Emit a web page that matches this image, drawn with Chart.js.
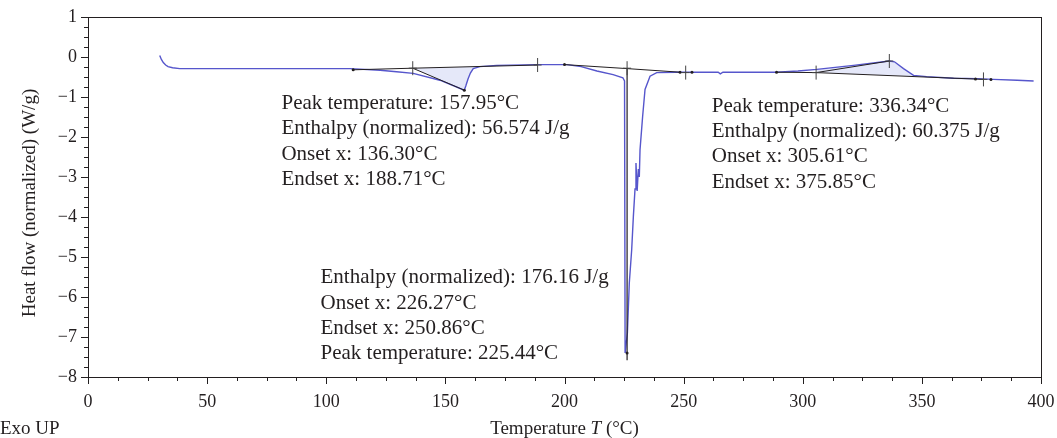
<!DOCTYPE html>
<html>
<head>
<meta charset="utf-8">
<title>DSC thermogram</title>
<script src="https://cdn.jsdelivr.net/npm/chart.js@4.4.1/dist/chart.umd.min.js"></script>
<style>
  html, body { margin: 0; padding: 0; background: #fff; }
  canvas { display: block; }
</style>
</head>
<body>
<canvas id="dsc" width="1057" height="438"></canvas>
<script>
/* ── DATA ── */
// heat flow curve, temperature (°C) vs normalized heat flow (W/g)
const curveT  = [30.1, 30.8, 31.6, 32.6, 33.6, 35.5, 38.5, 50, 70, 90, 110, 122.6, 129.5, 136.5, 147.7,
                 157.95, 158.6, 159.5, 160.5, 161.7, 164.5, 171.5, 189, 201, 207, 213.6, 220.4, 224.5, 225.2,
                 225.44, 226.4, 227.2, 228.2, 228.9, 229.6, 230.0, 230.5, 231.0, 231.4, 231.7, 232.8, 233.8,
                 235.9, 238.7, 247, 260, 264.5, 265.4, 266.5, 289, 298, 305.9, 321.3, 336.34, 338.5, 342.3,
                 346.5, 352, 363.3, 373.1, 380, 390, 396.9];
const curveHF = [0.04, -0.06, -0.14, -0.2, -0.24, -0.27, -0.29, -0.29, -0.29, -0.29, -0.29, -0.33, -0.37, -0.41, -0.58,
                 -0.83, -0.72, -0.55, -0.4, -0.29, -0.24, -0.21, -0.19, -0.19, -0.24, -0.35, -0.44, -0.52, -0.6,
                 -7.4, -6.9, -5.65, -4.82, -3.99, -3.3, -2.65, -3.35, -2.8, -3.0, -2.32, -1.48, -0.81,
                 -0.48, -0.39, -0.38, -0.38, -0.38, -0.42, -0.38, -0.38, -0.35, -0.31, -0.21, -0.1, -0.12, -0.29,
                 -0.46, -0.49, -0.53, -0.54, -0.56, -0.58, -0.6];

// integration baselines and tangents (pairs of T / heat flow)
const base1T  = [111.3, 136.3, 188.71];  const base1HF  = [-0.32, -0.28, -0.2];
const tan1T   = [136.3, 157.95];         const tan1HF   = [-0.28, -0.83];
const base2T  = [200, 226.27, 248.5];    const base2HF  = [-0.19, -0.29, -0.38];
const drop2T  = [226.27, 226.27];        const drop2HF  = [-0.29, -7.58];
const base3T  = [289, 305.61, 375.85];   const base3HF  = [-0.38, -0.39, -0.56];
const tan3T   = [305.61, 336.34];        const tan3HF   = [-0.39, -0.1];

// integrated peak areas
const area1T  = [136.3, 157.95, 158.6, 159.5, 160.5, 161.7, 164.5];
const area1HF = [-0.28, -0.83, -0.72, -0.55, -0.4, -0.29, -0.24];
const area3T  = [305.61, 305.9, 321.3, 336.34, 338.5, 342.3, 346.5, 346.5];
const area3HF = [-0.39, -0.31, -0.21, -0.1, -0.12, -0.29, -0.46, -0.49];

// onset / endset / peak cursors and end points
const crossT  = [136.3, 188.71, 226.27, 250.86, 305.61, 336.34, 375.85];
const crossHF = [-0.28, -0.2, -0.28, -0.39, -0.39, -0.1, -0.56];
const dotT    = [111.3, 157.95, 200, 226.27, 248.5, 253.5, 289, 372.5, 379];
const dotHF   = [-0.32, -0.83, -0.19, -7.4, -0.38, -0.38, -0.38, -0.55, -0.56];

// axes
const xTickValues = [0, 50, 100, 150, 200, 250, 300, 350, 400];
const yTickValues = [1, 0, -1, -2, -3, -4, -5, -6, -7, -8];
const xMinorStep = 12.5;
const yMinorStep = 0.25;

// peak evaluation texts
const peak1Text = ["Peak temperature: 157.95°C", "Enthalpy (normalized): 56.574 J/g", "Onset x: 136.30°C", "Endset x: 188.71°C"];
const peak2Text = ["Enthalpy (normalized): 176.16 J/g", "Onset x: 226.27°C", "Endset x: 250.86°C", "Peak temperature: 225.44°C"];
const peak3Text = ["Peak temperature: 336.34°C", "Enthalpy (normalized): 60.375 J/g", "Onset x: 305.61°C", "Endset x: 375.85°C"];

/* ── STYLE ── */
const INK   = "#231f20";
const CURVE = "#5656cc";
const SHADE = "rgba(226,229,248,0.9)";
const SERIF = "'Liberation Serif', 'DejaVu Serif', serif";

// where each text block starts (data coords of first line, left edge)
const textBlocks = [
  { lines: peak1Text, x: 81.2, y: -1.16 },
  { lines: peak2Text, x: 97.6, y: -5.52 },
  { lines: peak3Text, x: 261.8, y: -1.23 }
];

const pts = (xs, ys) => xs.map((v, i) => ({ x: v, y: ys[i] }));

function line(xs, ys, color, width, order) {
  return { data: pts(xs, ys), showLine: true, borderColor: color, borderWidth: width,
           pointRadius: 0, fill: false, tension: 0, order };
}

function area(xs, ys) {
  return { data: pts(xs, ys), showLine: true, borderWidth: 0, borderColor: "rgba(0,0,0,0)",
           backgroundColor: SHADE, fill: "shape", pointRadius: 0, order: 10 };
}

/* ── PLUGINS ── */
// frame, major/minor ticks and axis titles
const frameTicks = {
  id: "frameTicks",
  afterDraw(chart) {
    const { ctx, chartArea: a, scales: { x, y } } = chart;
    ctx.save();
    ctx.strokeStyle = INK;
    ctx.lineWidth = 1;
    ctx.strokeRect(Math.round(a.left) + 0.5, Math.round(a.top) + 0.5,
                   Math.round(a.right - a.left), Math.round(a.bottom - a.top));

    ctx.beginPath();
    for (let v = x.min; v <= x.max + 1e-9; v += xMinorStep) {
      const px = Math.round(x.getPixelForValue(v)) + 0.5;
      const len = xTickValues.includes(v) ? 7 : 4;
      ctx.moveTo(px, a.bottom); ctx.lineTo(px, a.bottom + len);
    }
    for (let v = y.min; v <= y.max + 1e-9; v += yMinorStep) {
      const py = Math.round(y.getPixelForValue(v)) + 0.5;
      const len = yTickValues.includes(v) ? 7 : 4;
      ctx.moveTo(a.left, py); ctx.lineTo(a.left - len, py);
    }
    ctx.stroke();

    // axis titles
    ctx.fillStyle = INK;
    ctx.textBaseline = "middle";
    const upright = "19px " + SERIF, italic = "italic 19px " + SERIF;
    const parts = [["Temperature ", upright], ["T", italic], [" (°C)", upright]];
    let w = 0;
    parts.forEach(([t, f]) => { ctx.font = f; w += ctx.measureText(t).width; });
    let tx = (a.left + a.right) / 2 - w / 2;
    parts.forEach(([t, f]) => { ctx.font = f; ctx.textAlign = "left"; ctx.fillText(t, tx, 429); tx += ctx.measureText(t).width; });

    ctx.font = upright;
    ctx.fillText("Exo UP", 0, 429);

    ctx.translate(30, 203);
    ctx.rotate(-Math.PI / 2);
    ctx.textAlign = "center";
    ctx.fillText("Heat flow (normalized) (W/g)", 0, 0);
    ctx.restore();
  }
};

// peak evaluation text blocks
const peakNotes = {
  id: "peakNotes",
  afterDatasetsDraw(chart) {
    const { ctx, scales: { x, y } } = chart;
    ctx.save();
    ctx.font = "21px " + SERIF;
    ctx.fillStyle = INK;
    ctx.textAlign = "left";
    ctx.textBaseline = "middle";
    textBlocks.forEach(b => {
      const left = x.getPixelForValue(b.x), top = y.getPixelForValue(b.y);
      b.lines.forEach((s, i) => ctx.fillText(s, left, top + i * 25.3));
    });
    ctx.restore();
  }
};

/* ── CHART ── */
new Chart(document.getElementById("dsc"), {
  type: "scatter",
  data: {
    datasets: [
      { data: pts(crossT, crossHF), pointStyle: "line", rotation: 90, pointRadius: 7,
        borderColor: "#444", borderWidth: 1, order: 0 },
      { data: pts(crossT, crossHF), pointStyle: "line", pointRadius: 4,
        borderColor: "#444", borderWidth: 1, order: 0 },
      { data: pts(dotT, dotHF), pointStyle: "circle", pointRadius: 1.5,
        backgroundColor: INK, borderWidth: 0, order: 0 },
      line(base1T, base1HF, INK, 1, 1),
      line(tan1T, tan1HF, INK, 1, 1),
      line(base2T, base2HF, INK, 1, 1),
      line(drop2T, drop2HF, INK, 1.2, 1),
      line(base3T, base3HF, INK, 1, 1),
      line(tan3T, tan3HF, INK, 1, 1),
      line(curveT, curveHF, CURVE, 1.4, 5),
      area(area1T, area1HF),
      area(area3T, area3HF)
    ]
  },
  options: {
    responsive: false,
    animation: false,
    layout: { padding: { top: 17, right: 16, left: 0, bottom: 0 } },
    plugins: { legend: { display: false }, tooltip: { enabled: false } },
    scales: {
      x: {
        type: "linear", min: 0, max: 400,
        afterBuildTicks: s => { s.ticks = xTickValues.map(v => ({ value: v })); },
        afterFit: s => { s.height = 61; s.paddingLeft = 0; s.paddingRight = 0; },
        grid: { display: false, drawTicks: false },
        border: { display: false },
        ticks: { color: INK, padding: 14, font: { family: SERIF, size: 18 }, maxRotation: 0 }
      },
      y: {
        type: "linear", min: -8, max: 1,
        afterBuildTicks: s => { s.ticks = yTickValues.map(v => ({ value: v })); },
        afterFit: s => { s.width = 88; s.paddingTop = 0; s.paddingBottom = 0; },
        grid: { display: false, drawTicks: false },
        border: { display: false },
        ticks: {
          color: INK, padding: 11, font: { family: SERIF, size: 18 },
          callback: v => (v < 0 ? "\u2212" + Math.abs(v) : String(v))
        }
      }
    }
  },
  plugins: [frameTicks, peakNotes]
});
</script>
</body>
</html>
